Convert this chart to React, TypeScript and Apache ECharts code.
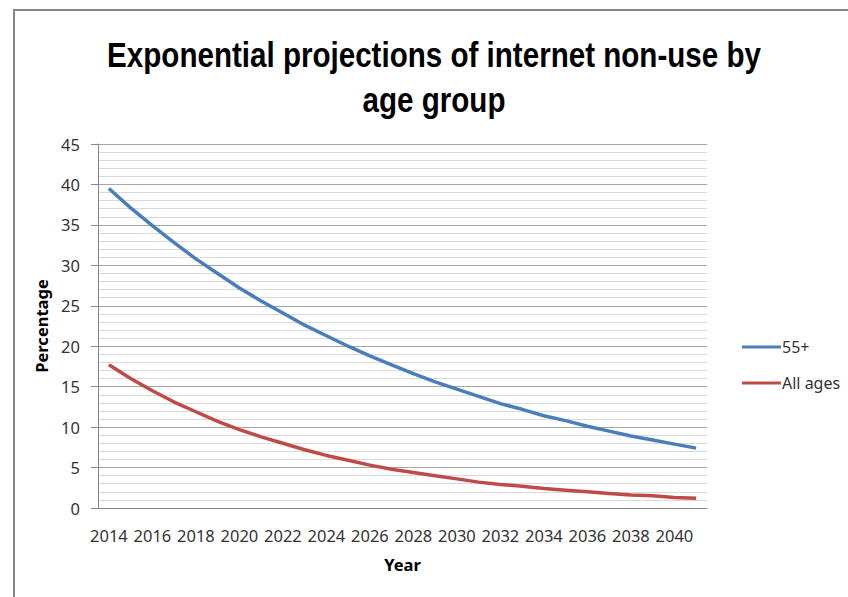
import React, { useEffect, useRef } from "react";
import * as echarts from "echarts";

// Projected share of people not using the internet, by year
const years: string[] = [
  "2014", "2015", "2016", "2017", "2018", "2019", "2020", "2021", "2022", "2023",
  "2024", "2025", "2026", "2027", "2028", "2029", "2030", "2031", "2032", "2033",
  "2034", "2035", "2036", "2037", "2038", "2039", "2040", "2041",
];

const aged55Plus: number[] = [
  39.5, 37.1, 34.9, 32.8, 30.8, 29.0, 27.2, 25.6, 24.1, 22.6,
  21.3, 20.0, 18.8, 17.7, 16.6, 15.6, 14.7, 13.8, 12.9, 12.2,
  11.4, 10.8, 10.1, 9.5, 8.9, 8.4, 7.9, 7.4,
];

const allAges: number[] = [
  17.7, 16.0, 14.5, 13.1, 11.9, 10.7, 9.7, 8.8, 8.0, 7.2,
  6.5, 5.9, 5.3, 4.8, 4.4, 4.0, 3.6, 3.2, 2.9, 2.7,
  2.4, 2.2, 2.0, 1.8, 1.6, 1.5, 1.3, 1.2,
];

const seriesNames = ["55+", "All ages"];
const seriesColors = ["#4a7ebb", "#be4b48"];

const chartTitle = "Exponential projections of internet non-use by\nage group";
const xAxisName = "Year";
const yAxisName = "Percentage";

const BODY_FONT = "'Noto Sans', 'DejaVu Sans', sans-serif";
const TITLE_FONT = "'Liberation Sans', Arial, sans-serif";

export default function App() {
  const ref = useRef<HTMLDivElement>(null);

  useEffect(() => {
    if (!ref.current) return;
    const chart = echarts.init(ref.current, undefined, { renderer: "svg" });

    chart.setOption({
      animation: false,
      backgroundColor: "#ffffff",
      textStyle: { fontFamily: BODY_FONT },
      graphic: [
        {
          type: "rect",
          shape: { x: 14, y: 10, width: 1000, height: 1000 },
          style: { fill: "none", stroke: "#868686", lineWidth: 2 },
          silent: true,
        },
        {
          // condensed bold title
          type: "text",
          x: 434,
          y: 78,
          scaleX: 0.845,
          scaleY: 1,
          style: {
            text: chartTitle,
            font: `bold 35px ${TITLE_FONT}`,
            fill: "#000000",
            textAlign: "center",
            textVerticalAlign: "middle",
            lineHeight: 45,
          },
        },
      ],
      legend: {
        orient: "vertical",
        left: 737,
        top: 334,
        icon: "rect",
        itemWidth: 39,
        itemHeight: 3,
        itemGap: 20,
        data: seriesNames,
        textStyle: { fontFamily: BODY_FONT, fontSize: 16, color: "#333333", padding: [0, 0, 0, -4] },
      },
      grid: { left: 98, right: 141, top: 144, bottom: 89, containLabel: false },
      xAxis: {
        type: "category",
        data: years,
        boundaryGap: true,
        name: xAxisName,
        nameLocation: "middle",
        nameGap: 48,
        nameTextStyle: { fontFamily: BODY_FONT, fontSize: 16.5, fontWeight: "bold", color: "#000000" },
        axisLine: { show: true, lineStyle: { color: "#868686", width: 1 } },
        axisTick: { show: false },
        axisLabel: {
          interval: 1,
          margin: 19,
          fontFamily: BODY_FONT,
          fontSize: 16.5,
          color: "#333333",
        },
        splitLine: { show: false },
      },
      yAxis: {
        type: "value",
        min: 0,
        max: 45,
        interval: 5,
        name: yAxisName,
        nameLocation: "middle",
        nameGap: 44,
        nameRotate: 90,
        nameTextStyle: { fontFamily: BODY_FONT, fontSize: 16.5, fontWeight: "bold", color: "#000000" },
        axisLine: { show: true, lineStyle: { color: "#868686", width: 1 } },
        axisTick: { show: true, length: 7, lineStyle: { color: "#868686" } },
        axisLabel: {
          margin: 18,
          fontFamily: BODY_FONT,
          fontSize: 16.5,
          color: "#333333",
        },
        splitLine: { show: true, lineStyle: { color: "#a6a6a6", width: 1 } },
        minorTick: { show: false, splitNumber: 5 },
        minorSplitLine: { show: true, lineStyle: { color: "#d9d9d9", width: 1 } },
      },
      series: [
        {
          name: seriesNames[0],
          type: "line",
          data: aged55Plus,
          symbol: "none",
          color: seriesColors[0],
          lineStyle: { color: seriesColors[0], width: 3.5 },
        },
        {
          name: seriesNames[1],
          type: "line",
          data: allAges,
          symbol: "none",
          color: seriesColors[1],
          lineStyle: { color: seriesColors[1], width: 3.5 },
        },
      ],
    });

    return () => chart.dispose();
  }, []);

  return (
    <div
      ref={ref}
      style={{ position: "fixed", left: 0, top: 0, width: 848, height: 597 }}
    />
  );
}
